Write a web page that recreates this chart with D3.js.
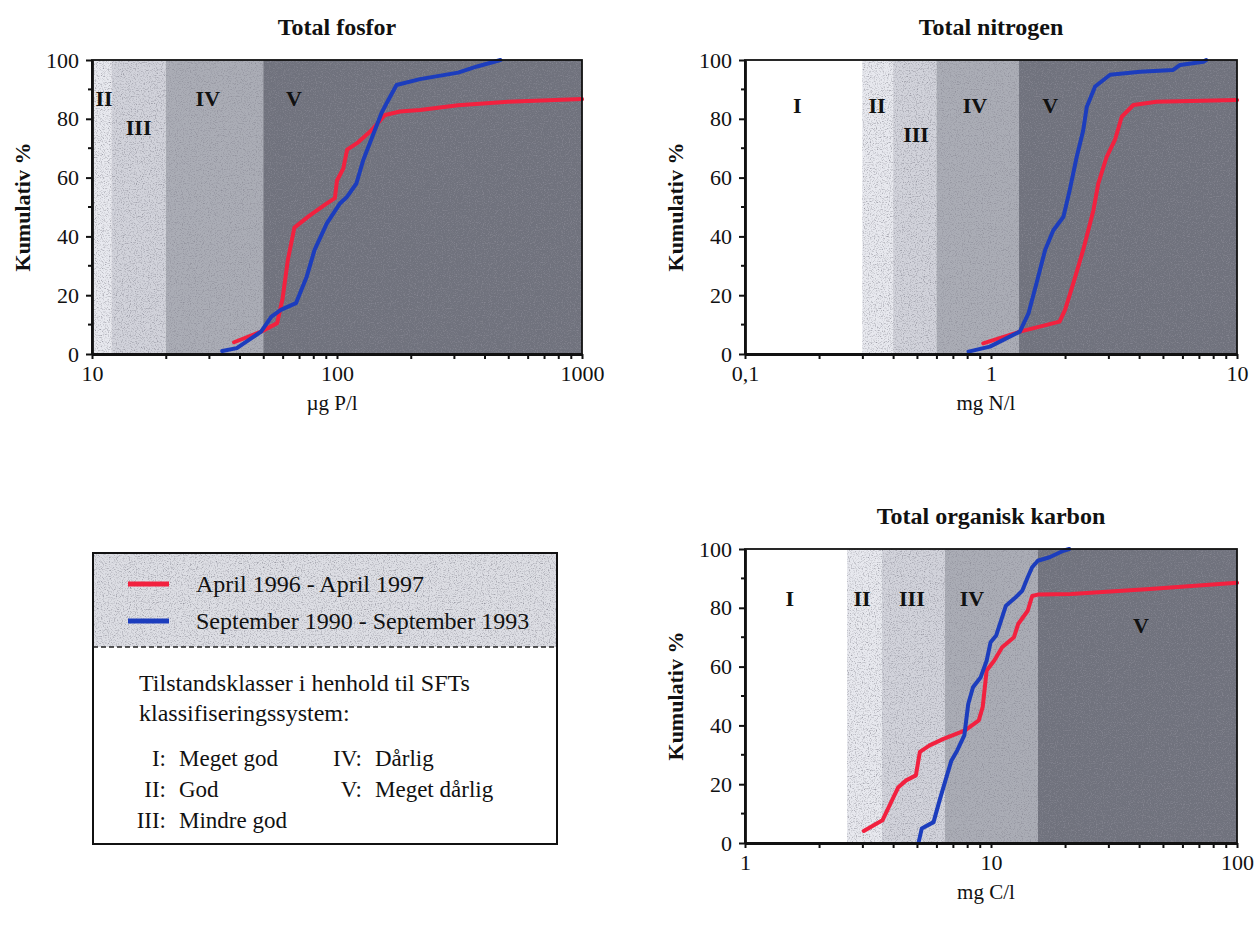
<!DOCTYPE html>
<html>
<head>
<meta charset="utf-8">
<script src="https://cdn.jsdelivr.net/npm/d3@7"></script>
<style>
  html, body { margin: 0; padding: 0; background: #ffffff; }
  svg { display: block; }
  text { font-family: "Liberation Serif", "Times New Roman", "DejaVu Serif", serif; fill: #111; }
</style>
</head>
<body>
<svg id="chart" width="1255" height="929"></svg>
<script>
// ---------- DATA ----------
const seriesNames = ["April 1996 - April 1997", "September 1990 - September 1993"];

// Total fosfor (µg P/l) : [value, cumulative %]
const fosforApril = [[38,4],[49,7.6],[57,10.5],[60,19],[63,32],[67,43],[77,47],[90,51],[98,53],[100,59],[106,63],[110,69.5],[122,72],[138,76],[157,81.3],[181,82.5],[218,83],[312,84.6],[500,85.8],[1000,86.7]];
const fosforSept  = [[34,1],[39,2],[49,7.6],[54,12.7],[59,15],[68,17.3],[75,26],[81,35.4],[91,44.5],[103,51.3],[110,53.5],[120,58],[128,66],[141,75],[152,82],[162,86.4],[175,91.5],[218,93.5],[312,95.7],[373,97.8],[465,100]];

// Total nitrogen (mg N/l)
const nitrogenApril = [[0.93,3.6],[1.31,7.6],[1.9,11],[2.0,15],[2.16,24],[2.37,35.4],[2.61,49],[2.73,58],[2.95,67],[3.19,72.8],[3.4,80.7],[3.79,84.7],[4.71,85.8],[10,86.4]];
const nitrogenSept  = [[0.81,0.8],[0.99,2.5],[1.31,7.6],[1.42,13.8],[1.53,24],[1.66,35.4],[1.79,42],[1.97,46.7],[2.09,55.8],[2.23,67],[2.37,76],[2.45,84],[2.65,91],[3.05,95],[4.04,96],[5.5,96.6],[5.87,98.3],[7.3,99.4],[7.5,100]];

// Total organisk karbon (mg C/l)
const karbonApril = [[3.04,4.1],[3.62,7.7],[4.2,19],[4.52,21.3],[4.95,23],[5.14,31],[5.63,33.2],[6.41,35.4],[7.85,38.3],[8.92,41.7],[9.25,46.2],[9.6,58.7],[10.3,62],[11.1,66.6],[12.4,70],[12.9,74.5],[14.1,79],[14.7,84],[15.5,84.5],[21.2,84.7],[44.2,86.4],[100,88.5]];
const karbonSept  = [[5.08,0.3],[5.23,4.9],[5.84,7.1],[6.18,14.5],[6.53,21.3],[6.9,28],[7.29,31.5],[7.79,36.6],[8.08,47.3],[8.45,53],[9.08,56.4],[9.6,62],[9.96,68.3],[10.5,70.6],[11.1,76.8],[11.5,80.7],[12.6,83.6],[13.4,85.8],[14.1,90.4],[14.7,93.8],[15.5,96],[17.3,97.2],[19.7,99.4],[20.8,100]];

// Class zones (SFT tilstandsklasser): [class, from, to]
const fosforZones   = [["II",10,12],["III",12,20],["IV",20,50],["V",50,1000]];
const nitrogenZones = [["I",0.1,0.3],["II",0.3,0.4],["III",0.4,0.6],["IV",0.6,1.3],["V",1.3,10]];
const karbonZones   = [["I",1,2.6],["II",2.6,3.6],["III",3.6,6.5],["IV",6.5,15.5],["V",15.5,100]];

// Zone label anchor in data units: [label, value, cumulative %]
const fosforZoneLabels   = [["II",11.2,87],["III",15.5,77],["IV",29.7,87],["V",66.7,87]];
const nitrogenZoneLabels = [["I",0.163,84.5],["II",0.344,84.5],["III",0.496,74.5],["IV",0.86,84.5],["V",1.74,84.5]];
const karbonZoneLabels   = [["I",1.52,83.3],["II",2.99,83.3],["III",4.77,83.3],["IV",8.37,83.3],["V",40.7,74]];

// Axis ticks
const yTicks = [0,20,40,60,80,100];
const yMinorTicks = [10,30,50,70,90];
const fosforTicks = [10,100,1000];
const fosforTickLabels = ["10","100","1000"];
const nitrogenTicks = [0.1,1,10];
const nitrogenTickLabels = ["0,1","1","10"];
const karbonTicks = [1,10,100];
const karbonTickLabels = ["1","10","100"];

const classLegend = [["I:","Meget god"],["II:","God"],["III:","Mindre god"],["IV:","Dårlig"],["V:","Meget dårlig"]];

// ---------- STYLE ----------
const zoneColor = {I:"#ffffff", II:"#e8e9ef", III:"#d2d3db", IV:"#abadb6", V:"#70727d"};
const redColor = "#f2213f";
const blueColor = "#1c3dbd";
const SERIF = "'Liberation Serif', 'Times New Roman', serif";

const svg = d3.select("#chart");

// subtle speckle filter to mimic scanned stipple
const defs = svg.append("defs");
const f = defs.append("filter").attr("id","noise").attr("x",0).attr("y",0).attr("width","100%").attr("height","100%");
f.append("feTurbulence").attr("type","fractalNoise").attr("baseFrequency",0.85).attr("numOctaves",2).attr("seed",5).attr("result","t");
f.append("feColorMatrix").attr("in","t").attr("type","matrix")
  .attr("values","0 0 0 0 0.25  0 0 0 0 0.25  0 0 0 0 0.3  2.2 0 0 0 -1.05").attr("result","n");
f.append("feComposite").attr("in","n").attr("in2","SourceGraphic").attr("operator","in").attr("result","nn");
f.append("feMerge").selectAll("feMergeNode").data(["SourceGraphic","nn"]).enter().append("feMergeNode").attr("in",d=>d);

const panels = [
  {title:"Total fosfor", xlabel:"µg P/l", x0:92, x1:582, y0:60, y1:354,
   domain:[10,1000], ticks:fosforTicks, tickLabels:fosforTickLabels,
   zones:fosforZones, zoneLabels:fosforZoneLabels, red:fosforApril, blue:fosforSept},
  {title:"Total nitrogen", xlabel:"mg N/l", x0:745, x1:1237, y0:60, y1:354,
   domain:[0.1,10], ticks:nitrogenTicks, tickLabels:nitrogenTickLabels,
   zones:nitrogenZones, zoneLabels:nitrogenZoneLabels, red:nitrogenApril, blue:nitrogenSept},
  {title:"Total organisk karbon", xlabel:"mg C/l", x0:745, x1:1237, y0:549, y1:843,
   domain:[1,100], ticks:karbonTicks, tickLabels:karbonTickLabels,
   zones:karbonZones, zoneLabels:karbonZoneLabels, red:karbonApril, blue:karbonSept}
];

panels.forEach(p => {
  const x = d3.scaleLog().domain(p.domain).range([p.x0, p.x1]);
  const y = d3.scaleLinear().domain([0,100]).range([p.y1, p.y0]);
  const g = svg.append("g");

  // zones
  g.append("g").selectAll("rect").data(p.zones).enter().append("rect")
    .attr("x", d => x(d[1])).attr("width", d => x(d[2]) - x(d[1]))
    .attr("y", p.y0).attr("height", p.y1 - p.y0)
    .attr("fill", d => zoneColor[d[0]])
    .attr("filter", d => d[0] === "I" ? null : "url(#noise)");

  // zone labels
  g.selectAll("text.zl").data(p.zoneLabels).enter().append("text")
    .attr("class","zl")
    .attr("x", d => x(d[1])).attr("y", d => y(d[2]))
    .attr("text-anchor","middle").attr("dominant-baseline","central")
    .style("font-weight","bold").style("font-size","22px")
    .text(d => d[0]);

  // lines
  const line = d3.line().x(d => x(d[0])).y(d => y(d[1]));
  g.append("path").datum(p.red).attr("d", line)
    .attr("fill","none").attr("stroke", redColor).attr("stroke-width",4)
    .attr("stroke-linejoin","round").attr("stroke-linecap","round");
  g.append("path").datum(p.blue).attr("d", line)
    .attr("fill","none").attr("stroke", blueColor).attr("stroke-width",4)
    .attr("stroke-linejoin","round").attr("stroke-linecap","round");

  // frame
  g.append("rect").attr("x", p.x0).attr("y", p.y0)
    .attr("width", p.x1 - p.x0).attr("height", p.y1 - p.y0)
    .attr("fill","none").attr("stroke","#111").attr("stroke-width",1.8);

  // x axis (log, minor ticks)
  const allTicks = [];
  const lo = Math.round(Math.log10(p.domain[0])), hi = Math.round(Math.log10(p.domain[1]));
  for (let e = lo; e < hi; e++) {
    for (let k = 1; k < 10; k++) allTicks.push(k * Math.pow(10, e));
  }
  allTicks.push(p.domain[1]);
  const labelFor = v => {
    const i = p.ticks.findIndex(t => Math.abs(t - v) / t < 1e-6);
    return i >= 0 ? p.tickLabels[i] : "";
  };
  const xAxis = d3.axisBottom(x).tickValues(allTicks).tickFormat(labelFor)
    .tickSizeInner(5).tickSizeOuter(0).tickPadding(6);
  const xa = g.append("g").attr("transform", `translate(0,${p.y1})`).call(xAxis);
  xa.attr("font-family", SERIF);
  xa.select(".domain").attr("stroke","#111").attr("stroke-width",2.8);
  xa.selectAll(".tick line").attr("stroke","#111").attr("stroke-width",2);
  xa.selectAll(".tick text").style("font-size","22px").attr("fill","#111");

  // y axis
  const yAxis = d3.axisLeft(y).tickValues(yTicks).tickSizeInner(6).tickSizeOuter(0).tickPadding(7);
  const ya = g.append("g").attr("transform", `translate(${p.x0},0)`).call(yAxis);
  ya.attr("font-family", SERIF);
  ya.select(".domain").attr("stroke","#111").attr("stroke-width",2.8);
  ya.selectAll(".tick line").attr("stroke","#111").attr("stroke-width",2);
  ya.selectAll(".tick text").style("font-size","22px").attr("fill","#111");
  g.append("g").selectAll("line").data(yMinorTicks).enter().append("line")
    .attr("x1", p.x0 - 4).attr("x2", p.x0).attr("y1", d => y(d)).attr("y2", d => y(d))
    .attr("stroke","#111").attr("stroke-width",2);

  // titles
  g.append("text").attr("x", (p.x0 + p.x1) / 2).attr("y", p.y0 - 25)
    .attr("text-anchor","middle").style("font-weight","bold").style("font-size","24px")
    .text(p.title);
  g.append("text")
    .attr("transform", `translate(${p.x0 - 70},${(p.y0 + p.y1) / 2}) rotate(-90)`)
    .attr("text-anchor","middle").attr("dominant-baseline","central")
    .style("font-weight","bold").style("font-size","22px")
    .text("Kumulativ %");
  g.append("text").attr("x", (p.x0 + p.x1) / 2 - 5).attr("y", p.y1 + 56)
    .attr("text-anchor","middle").style("font-size","21px")
    .text(p.xlabel);
});

// ---------- LEGEND BOX ----------
const lg = svg.append("g");
const L = {x0:93, x1:557, y0:553, y1:844, ySplit:647};
lg.append("rect").attr("x", L.x0).attr("y", L.y0).attr("width", L.x1 - L.x0).attr("height", L.ySplit - L.y0)
  .attr("fill","#dddee4").attr("filter","url(#noise)");
lg.append("line").attr("x1", L.x0).attr("x2", L.x1).attr("y1", L.ySplit).attr("y2", L.ySplit)
  .attr("stroke","#222").attr("stroke-width",1.5).attr("stroke-dasharray","5,3");
lg.append("rect").attr("x", L.x0).attr("y", L.y0).attr("width", L.x1 - L.x0).attr("height", L.y1 - L.y0)
  .attr("fill","none").attr("stroke","#111").attr("stroke-width",2);

const legColors = [redColor, blueColor];
seriesNames.forEach((name, i) => {
  const yy = 584 + i * 37;
  lg.append("line").attr("x1", 128).attr("x2", 169).attr("y1", yy).attr("y2", yy)
    .attr("stroke", legColors[i]).attr("stroke-width", 5);
  lg.append("text").attr("x", 196).attr("y", yy + 8).style("font-size","24px").text(name);
});
lg.append("text").attr("x", 139).attr("y", 691).style("font-size","24px").text("Tilstandsklasser i henhold til SFTs");
lg.append("text").attr("x", 139).attr("y", 721).style("font-size","24px").text("klassifiseringssystem:");
const cls = lg.selectAll("g.cls").data(classLegend).enter().append("g").attr("class","cls")
  .attr("transform", (d, i) => i < 3 ? `translate(166,${766 + i * 31})` : `translate(362,${766 + (i - 3) * 31})`);
cls.append("text").attr("x", 0).attr("text-anchor","end").style("font-size","23px").text(d => d[0]);
cls.append("text").attr("x", 13).style("font-size","23px").text(d => d[1]);
</script>
</body>
</html>
